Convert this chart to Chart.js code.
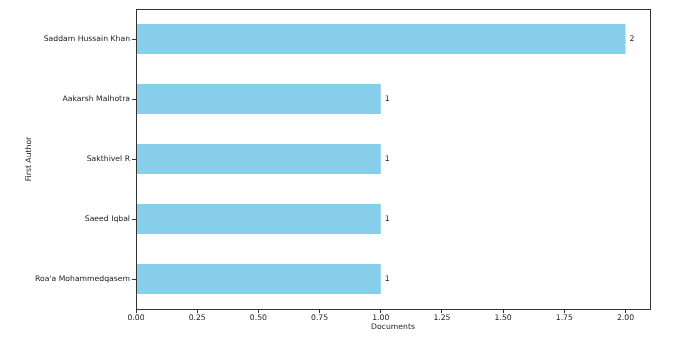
<!DOCTYPE html>
<html>
<head>
<meta charset="utf-8">
<script src="https://cdn.jsdelivr.net/npm/chart.js@4.4.0/dist/chart.umd.min.js"></script>
<style>
html,body{margin:0;padding:0;background:#fff;}
#wrap{width:683px;height:344px;position:relative;}
</style>
</head>
<body>
<div id="wrap"><canvas id="c" width="683" height="344"></canvas></div>
<script>
const authors = ["Saddam Hussain Khan", "Aakarsh Malhotra", "Sakthivel R", "Saeed Iqbal", "Roa'a Mohammedqasem"];
const documents = [2, 1, 1, 1, 1];
const xTicks = [0, 0.25, 0.5, 0.75, 1.0, 1.25, 1.5, 1.75, 2.0];

const FONT = "DejaVu Sans";
const FS = 7.7;
const TXT = "#1a1a1a";
const AX = "#333";

const boxPlugin = {
  id: 'box',
  afterDraw(chart) {
    const {ctx, chartArea: a} = chart;
    ctx.save();
    ctx.strokeStyle = AX;
    ctx.lineWidth = 1;
    ctx.strokeRect(Math.round(a.left) + 0.5, Math.round(a.top) + 0.5, Math.round(a.right - a.left), Math.round(a.bottom - a.top));
    ctx.restore();
  }
};
const valuePlugin = {
  id: 'vals',
  afterDatasetsDraw(chart) {
    const {ctx} = chart;
    const meta = chart.getDatasetMeta(0);
    ctx.save();
    ctx.font = FS + "px '" + FONT + "'";
    ctx.fillStyle = TXT;
    ctx.textBaseline = 'middle';
    ctx.textAlign = 'left';
    meta.data.forEach((el, i) => {
      ctx.fillText(String(documents[i]), el.x + 4, el.y);
    });
    ctx.restore();
  }
};

new Chart(document.getElementById('c'), {
  type: 'bar',
  data: {
    labels: authors,
    datasets: [{
      data: documents,
      backgroundColor: '#87CEEB',
      borderWidth: 0,
      barPercentage: 0.5,
      categoryPercentage: 1.0
    }]
  },
  options: {
    indexAxis: 'y',
    responsive: false,
    animation: false,
    layout: {padding: {left: 0, right: 33, top: 9, bottom: 0}},
    plugins: {legend: {display: false}, tooltip: {enabled: false}},
    scales: {
      x: {
        type: 'linear',
        min: 0,
        max: 2.1,
        afterBuildTicks(scale) { scale.ticks = xTicks.map(v => ({value: v})); },
        afterFit(scale) { scale.height = 35; },
        grid: {display: true, drawOnChartArea: false, drawTicks: true, tickLength: 4, color: AX, tickColor: AX},
        border: {display: true, color: AX, width: 1},
        ticks: {
          color: TXT, font: {family: FONT, size: FS}, padding: 0, maxRotation: 0, autoSkip: false,
          callback: v => Number(v).toFixed(2)
        },
        title: {display: true, text: 'Documents', color: TXT, font: {family: FONT, size: FS}, padding: {top: 0, bottom: 12}}
      },
      y: {
        afterFit(scale) { scale.width = 136; },
        grid: {display: true, offset: false, drawOnChartArea: false, drawTicks: true, tickLength: 4, color: AX, tickColor: AX},
        border: {display: true, color: AX, width: 1},
        ticks: {color: TXT, font: {family: FONT, size: FS}, padding: 2, autoSkip: false},
        title: {display: true, text: 'First Author', color: TXT, font: {family: FONT, size: FS}, padding: {top: 24, bottom: 0}}
      }
    }
  },
  plugins: [boxPlugin, valuePlugin]
});
</script>
</body>
</html>
